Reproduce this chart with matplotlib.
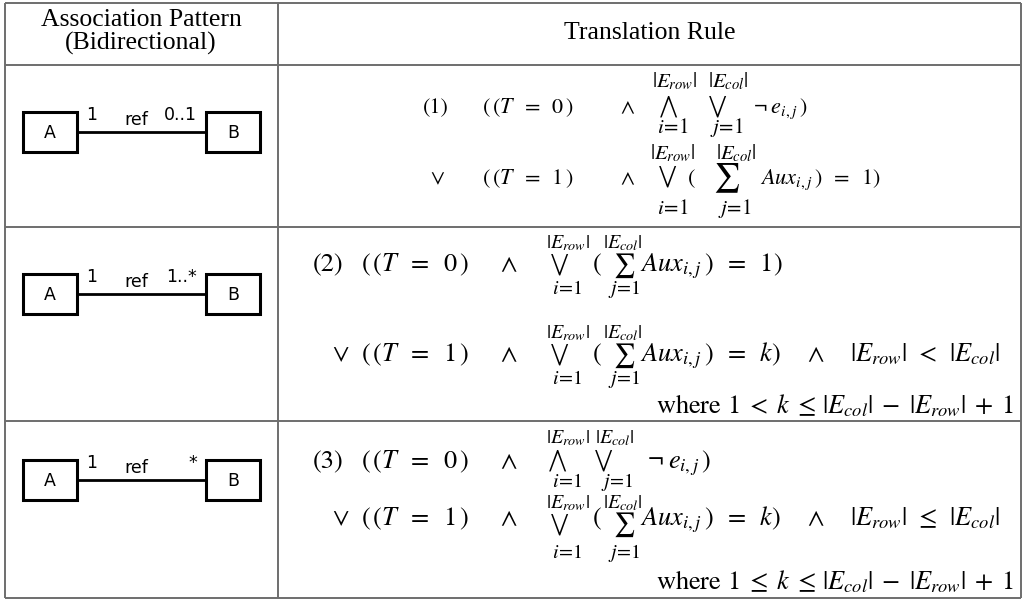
import matplotlib.pyplot as plt
from matplotlib.patches import Rectangle

plt.rcParams['mathtext.fontset'] = 'stix'
plt.rcParams['font.family'] = ['STIXGeneral', 'DejaVu Serif']

# header / left column text
header_left = ['Association Pattern', '(Bidirectional)']
header_right = 'Translation Rule'
class_names = ['A', 'B']
assoc_label = 'ref'
mult_src = ['1', '1', '1']
mult_dst = ['0..1', '1..*', '*']

# pieces of the translation rules
rule_ids = ['(1)', '(2)', '(3)']
t_zero = r'$(\,(T\;\;=\;\;0\,)$'
t_one = r'$(\,(T\;\;=\;\;1\,)$'
op_and = r'$\wedge$'
op_or = r'$\vee$'
big_and = r'$\bigwedge$'
big_or = r'$\bigvee$'
big_sum = r'$\sum$'
open_par = r'$($'
lim_top = [r'$|E_{row}|$', r'$|E_{col}|$']
lim_bot = [r'$i\!=\!1$', r'$j\!=\!1$']
neg_term = r'$\neg\;e_{i,j}\,)$'
aux_one = r'$Aux_{i,j}\,)\;\;=\;\;1)$'
aux_k = r'$Aux_{i,j}\,)\;\;=\;\;k)$'
card_cond = [r'$|E_{row}|\;\,<\;\,|E_{col}|$', r'$|E_{row}|\;\,\leq\;\,|E_{col}|$']
where_cond = [r'where $1\;<\;k\;\leq\,|E_{col}|\;-\;|E_{row}|\;+\;1$',
              r'where $1\;\leq\;k\;\leq\,|E_{col}|\;-\;|E_{row}|\;+\;1$']

W, H = 1024, 601
fig = plt.figure(figsize=(W / 100, H / 100), dpi=100)
ax = fig.add_axes([0, 0, 1, 1])
ax.set_xlim(0, W)
ax.set_ylim(H, 0)
ax.axis('off')

# table grid
grid = '#6e6e6e'
row_lines = [2.5, 65, 227, 421, 598]
col_lines = [5, 278, 1021]
ax.hlines(row_lines, col_lines[0], col_lines[-1], color=grid, lw=1.4)
ax.vlines(col_lines, row_lines[0], row_lines[-1], color=grid, lw=1.4)

# header
ax.text(141, 26, header_left[0], fontsize=18.5, family='Liberation Serif', ha='center', va='baseline')
ax.text(141, 50, header_left[1], fontsize=18.5, family='Liberation Serif', ha='center', va='baseline')
ax.text(650, 39, header_right, fontsize=18.5, family='Liberation Serif', ha='center', va='baseline')


def put(x, y, s, size, ha='left', va='baseline'):
    ax.text(x, y, s, fontsize=size, ha=ha, va=va)


# UML association diagrams
for i, yc in enumerate([132, 294, 480]):
    for x0, name in zip([23, 206], class_names):
        ax.add_patch(Rectangle((x0, yc - 20), 54, 40, fill=False, lw=2.2, ec='black'))
        ax.text(x0 + 27, yc + 1, name, fontsize=12.5, family='DejaVu Sans', ha='center', va='center')
    ax.plot([77, 206], [yc, yc], color='black', lw=2.0)
    ax.text(86, yc - 12, mult_src[i], fontsize=12.5, family='DejaVu Sans', ha='left', va='baseline')
    ax.text(136, yc - 7, assoc_label, fontsize=12.5, family='DejaVu Sans', ha='center', va='baseline')
    ax.text(197, yc - 12, mult_dst[i], fontsize=12.5, family='DejaVu Sans', ha='right', va='baseline')


def big_op(x, y, sym, top, bot, size, lsize, dtop, dbot, dop):
    put(x, y - dop, sym, size, ha='center', va='center')
    put(x + top[0], y - dtop, top[1], lsize, ha='center')
    put(x + bot[0], y + dbot, bot[1], lsize, ha='center')


# rule (1)
ms, ls, bs = 16, 15, 15
y = 113
put(423, y, rule_ids[0], ms)
put(482, y, t_zero, ms)
put(620, y, op_and, ms)
big_op(668, y, big_and, (7, lim_top[0]), (5, lim_bot[0]), bs, ls, 26, 20, 7)
big_op(717, y, big_or, (11, lim_top[1]), (10, lim_bot[1]), bs, ls, 26, 20, 7)
put(753, y, neg_term, ms)
y = 184
put(430, y, op_or, ms)
put(482, y, t_one, ms)
put(620, y, op_and, ms)
big_op(667, y, big_or, (6, lim_top[0]), (6, lim_bot[0]), bs, ls, 25, 30, 8)
put(687, y, open_par, ms)
big_op(726, y, big_sum, (10, lim_top[1]), (9, lim_bot[1]), 21, ls, 25, 30, 6)
put(760, y, aux_one, ms)

# rules (2) and (3)
ms, ls, bs = 19, 14.5, 15
rows = [
    (271, 361, 413, 0),
    (468, 525, 589, 1),
]
for r, (y1, y2, y3, c) in enumerate(rows):
    put(313, y1, rule_ids[r + 1], ms)
    put(361, y1, t_zero, ms)
    put(500, y1, op_and, ms)
    if r == 0:
        big_op(559, y1, big_or, (9, lim_top[0]), (8, lim_bot[0]), bs, ls, 23, 23, 7)
        put(592, y1, open_par, ms)
        big_op(624, y1, big_sum, (-1, lim_top[1]), (0, lim_bot[1]), 17, ls, 23, 23, 5)
        put(640, y1, aux_one, ms)
    else:
        big_op(557, y1, big_and, (11, lim_top[0]), (10, lim_bot[0]), bs, ls, 25, 19, 8)
        big_op(603, y1, big_or, (12, lim_top[1]), (14, lim_bot[1]), bs, ls, 25, 19, 8)
        put(647, y1, neg_term, ms)
    dt = 23 if r == 0 else 17
    db = 23 if r == 0 else 33
    put(332, y2, op_or, ms)
    put(361, y2, t_one, ms)
    put(500, y2, op_and, ms)
    big_op(559, y2, big_or, (9, lim_top[0]), (8, lim_bot[0]), bs, ls, dt, db, 7 if r == 0 else 1)
    put(592, y2, open_par, ms)
    big_op(624, y2, big_sum, (-1, lim_top[1]), (0, lim_bot[1]), 17, ls, dt, db, 5 if r == 0 else 0)
    put(640, y2, aux_k, ms)
    put(807, y2, op_and, ms)
    put(850, y2, card_cond[c], ms)
    put(1014, y3, where_cond[c], ms, ha='right')

fig.savefig('out.png', dpi=100)
